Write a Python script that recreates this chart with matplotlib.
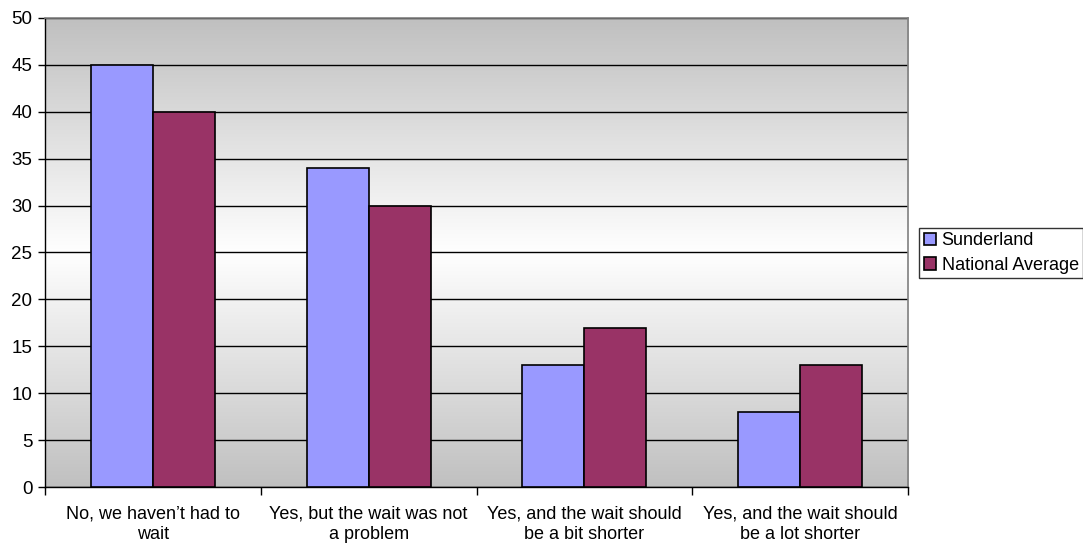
import numpy as np
import matplotlib
matplotlib.use("Agg")
import matplotlib.pyplot as plt
from matplotlib.colors import LinearSegmentedColormap

plt.rcParams['font.family'] = ['Liberation Sans', 'DejaVu Sans']

categories = ["No, we haven\u2019t had to\nwait",
              "Yes, but the wait was not\na problem",
              "Yes, and the wait should\nbe a bit shorter",
              "Yes, and the wait should\nbe a lot shorter"]
series_names = ["Sunderland", "National Average"]
sunderland = [45, 34, 13, 8]
national = [40, 30, 17, 13]
colors = ["#9999FF", "#993366"]

fig = plt.figure(figsize=(10.83, 5.45), dpi=100)
ax = fig.add_axes([45 / 1083, 1 - 487 / 545, (908 - 45) / 1083, (487 - 18) / 545])

# grey-white-grey background gradient
cmap = LinearSegmentedColormap.from_list("bg", ["#c0c0c0", "#ffffff", "#c0c0c0"])
grad = np.linspace(0, 1, 256).reshape(-1, 1)
ax.imshow(grad, cmap=cmap, aspect="auto", extent=[-0.5, 3.5, 0, 50],
          origin="lower", zorder=0)

x = np.arange(len(categories))
w = 62 / 216
for i, (vals, c, name) in enumerate(zip([sunderland, national], colors, series_names)):
    ax.bar(x + (i - 0.5) * w, vals, width=w, color=c, edgecolor="black",
           linewidth=1.2, label=name, zorder=3)

ax.set_xlim(-0.5, 3.5)
ax.set_ylim(0, 50)
ax.set_yticks(range(0, 51, 5))
ax.yaxis.grid(True, color="black", linewidth=1.0, zorder=1)
ax.set_axisbelow(True)
for gl in ax.get_ygridlines():
    gl.set_zorder(1)

ax.set_xticks(x)
ax.set_xticklabels(categories, fontsize=13, linespacing=1.3)
ax.set_xticks(np.arange(-0.5, 4.0, 1.0), minor=True)
ax.tick_params(axis="x", which="major", length=0, pad=13)
ax.tick_params(axis="x", which="minor", length=6, width=1, color="black")
ax.tick_params(axis="y", length=5, width=1, labelsize=13.5, pad=4)

for s in ["top", "right"]:
    ax.spines[s].set_color("#808080")
    ax.spines[s].set_linewidth(1.2)
for s in ["left", "bottom"]:
    ax.spines[s].set_color("black")
    ax.spines[s].set_linewidth(1.0)

leg = ax.legend(loc="center left", bbox_to_anchor=(919 / 1083, 1 - 253 / 545),
                bbox_transform=fig.transFigure, fontsize=13, frameon=True,
                fancybox=False, edgecolor="black", handlelength=0.7,
                handleheight=0.7, handletextpad=0.3, borderpad=0.25,
                labelspacing=0.4, borderaxespad=0)
leg.get_frame().set_linewidth(1.0)

fig.savefig("out.png", dpi=100)
